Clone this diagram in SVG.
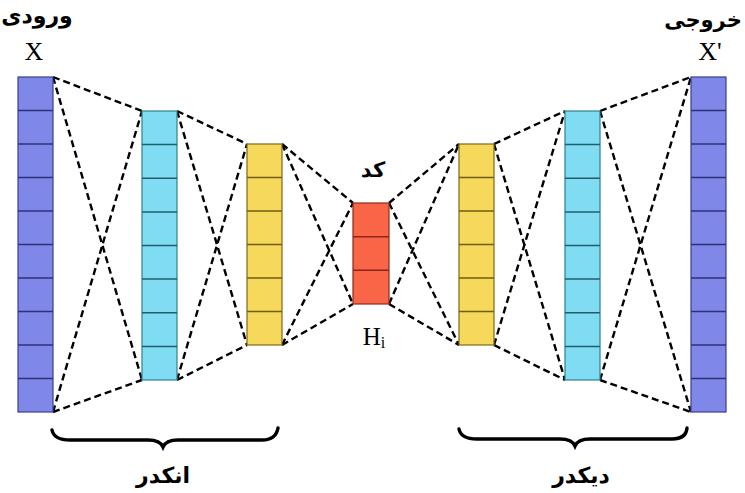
<svg xmlns="http://www.w3.org/2000/svg" width="745" height="493" viewBox="0 0 745 493">
<style>
.blue{fill:#7f87e9;stroke:#3a3f8c;stroke-width:1.2}
.cyan{fill:#80dcf2;stroke:#2f7f8f;stroke-width:1.2}
.yel{fill:#f6d95a;stroke:#7a6a1a;stroke-width:1.2}
.red{fill:#f96647;stroke:#8a2a18;stroke-width:1.2}
.cellb{stroke:#2c3178;stroke-width:1.5}
.cellc{stroke:#1f5f6c;stroke-width:1.5}
.celly{stroke:#6e5e12;stroke-width:1.5}
.cellr{stroke:#8a2418;stroke-width:1.5}
.conn line{stroke:#000;stroke-width:2.4;stroke-dasharray:7 4;fill:none}
.fa{font-family:"DejaVu Sans",sans-serif;font-weight:bold;fill:#000;text-anchor:middle}
.lat{font-family:"Liberation Serif",serif;fill:#000;text-anchor:middle}
.brace{fill:none;stroke:#000;stroke-width:3.4;stroke-linecap:round}
</style>
<g id="connectors" class="conn">
<line x1="53" y1="77" x2="142" y2="111"/><line x1="53" y1="77" x2="142" y2="380"/><line x1="53" y1="412" x2="142" y2="111"/><line x1="53" y1="412" x2="142" y2="380"/>
<line x1="177" y1="111" x2="247" y2="144"/><line x1="177" y1="111" x2="247" y2="345"/><line x1="177" y1="380" x2="247" y2="144"/><line x1="177" y1="380" x2="247" y2="345"/>
<line x1="282" y1="144" x2="353" y2="203"/><line x1="282" y1="144" x2="353" y2="304"/><line x1="282" y1="345" x2="353" y2="203"/><line x1="282" y1="345" x2="353" y2="304"/>
<line x1="389" y1="203" x2="459" y2="144"/><line x1="389" y1="203" x2="459" y2="345"/><line x1="389" y1="304" x2="459" y2="144"/><line x1="389" y1="304" x2="459" y2="345"/>
<line x1="494" y1="144" x2="565" y2="111"/><line x1="494" y1="144" x2="565" y2="380"/><line x1="494" y1="345" x2="565" y2="111"/><line x1="494" y1="345" x2="565" y2="380"/>
<line x1="600" y1="111" x2="691" y2="77"/><line x1="600" y1="111" x2="691" y2="412"/><line x1="600" y1="380" x2="691" y2="77"/><line x1="600" y1="380" x2="691" y2="412"/>
</g>
<g id="input">
<rect class="blue" x="18" y="77" width="35" height="335"/>
<g class="cellb"><line x1="18" y1="110.5" x2="53" y2="110.5"/><line x1="18" y1="144" x2="53" y2="144"/><line x1="18" y1="177.5" x2="53" y2="177.5"/><line x1="18" y1="211" x2="53" y2="211"/><line x1="18" y1="244.5" x2="53" y2="244.5"/><line x1="18" y1="278" x2="53" y2="278"/><line x1="18" y1="311.5" x2="53" y2="311.5"/><line x1="18" y1="345" x2="53" y2="345"/><line x1="18" y1="378.5" x2="53" y2="378.5"/></g>
</g>
<g id="enc1">
<rect class="cyan" x="142" y="111" width="35" height="269"/>
<g class="cellc"><line x1="142" y1="144.6" x2="177" y2="144.6"/><line x1="142" y1="178.3" x2="177" y2="178.3"/><line x1="142" y1="211.9" x2="177" y2="211.9"/><line x1="142" y1="245.5" x2="177" y2="245.5"/><line x1="142" y1="279.1" x2="177" y2="279.1"/><line x1="142" y1="312.8" x2="177" y2="312.8"/><line x1="142" y1="346.4" x2="177" y2="346.4"/></g>
</g>
<g id="enc2">
<rect class="yel" x="247" y="144" width="35" height="201"/>
<g class="celly"><line x1="247" y1="177.5" x2="282" y2="177.5"/><line x1="247" y1="211" x2="282" y2="211"/><line x1="247" y1="244.5" x2="282" y2="244.5"/><line x1="247" y1="278" x2="282" y2="278"/><line x1="247" y1="311.5" x2="282" y2="311.5"/></g>
</g>
<g id="code">
<rect class="red" x="353" y="203" width="36" height="101"/>
<g class="cellr"><line x1="353" y1="236.7" x2="389" y2="236.7"/><line x1="353" y1="270.3" x2="389" y2="270.3"/></g>
</g>
<g id="dec1">
<rect class="yel" x="459" y="144" width="35" height="201"/>
<g class="celly"><line x1="459" y1="177.5" x2="494" y2="177.5"/><line x1="459" y1="211" x2="494" y2="211"/><line x1="459" y1="244.5" x2="494" y2="244.5"/><line x1="459" y1="278" x2="494" y2="278"/><line x1="459" y1="311.5" x2="494" y2="311.5"/></g>
</g>
<g id="dec2">
<rect class="cyan" x="565" y="111" width="35" height="269"/>
<g class="cellc"><line x1="565" y1="144.6" x2="600" y2="144.6"/><line x1="565" y1="178.3" x2="600" y2="178.3"/><line x1="565" y1="211.9" x2="600" y2="211.9"/><line x1="565" y1="245.5" x2="600" y2="245.5"/><line x1="565" y1="279.1" x2="600" y2="279.1"/><line x1="565" y1="312.8" x2="600" y2="312.8"/><line x1="565" y1="346.4" x2="600" y2="346.4"/></g>
</g>
<g id="output">
<rect class="blue" x="691" y="77" width="35" height="335"/>
<g class="cellb"><line x1="691" y1="110.5" x2="726" y2="110.5"/><line x1="691" y1="144" x2="726" y2="144"/><line x1="691" y1="177.5" x2="726" y2="177.5"/><line x1="691" y1="211" x2="726" y2="211"/><line x1="691" y1="244.5" x2="726" y2="244.5"/><line x1="691" y1="278" x2="726" y2="278"/><line x1="691" y1="311.5" x2="726" y2="311.5"/><line x1="691" y1="345" x2="726" y2="345"/><line x1="691" y1="378.5" x2="726" y2="378.5"/></g>
</g>
<g id="labels">
<text class="fa" x="37" y="23" font-size="22">ورودی</text>
<text class="lat" x="34" y="60" font-size="26">X</text>
<text class="fa" x="703" y="27" font-size="21">خروجی</text>
<text class="lat" x="710" y="60" font-size="26">X'</text>
<text class="fa" x="373" y="177" font-size="21">کد</text>
<text class="lat" x="374" y="345" font-size="25">H<tspan font-size="16" dy="3">i</tspan></text>
<text class="fa" x="163" y="483" font-size="22">انکدر</text>
<text class="fa" x="581" y="483" font-size="22">دیکدر</text>
</g>
<g id="braces">
<path class="brace" d="M52,430 Q54,440 70,440 L148,440 Q160,440 163,447 Q166,440 178,440 L262,440 Q276,440 278,428"/>
<path class="brace" d="M459,429 Q461,439 477,439 L560,439 Q572,439 575,446 Q578,439 590,439 L672,439 Q686,439 687,428"/>
</g>
</svg>
